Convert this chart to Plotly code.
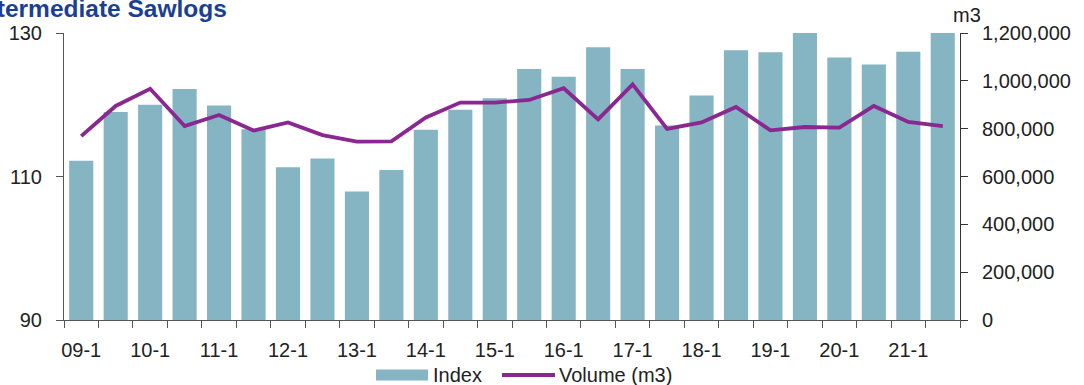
import plotly.graph_objects as go

# Half-year periods 2009 H1 .. 2021 H2
periods = [f"{y:02d}-{h}" for y in range(9, 22) for h in (1, 2)]
tick_text = [p if p.endswith("-1") else "" for p in periods]

index_values = [112.2, 119.0, 120.0, 122.2, 119.9, 116.6, 111.3, 112.5, 107.9, 110.9,
                116.5, 119.3, 120.9, 125.0, 123.9, 128.0, 125.0, 117.1, 121.3, 127.6,
                127.3, 130.0, 126.6, 125.6, 127.4, 130.0]

volume_m3 = [769000, 895000, 967000, 811000, 857000, 792000, 826000, 773000, 746000, 747000,
             847000, 909000, 909000, 920000, 969000, 839000, 985000, 799000, 826000, 891000,
             793000, 807000, 804000, 895000, 828000, 811000]

FONT = "Liberation Sans, Arial, sans-serif"
TXT = "#222222"
BAR_COLOR = "#85B4C3"
LINE_COLOR = "#8B2790"

# plot-area geometry (pixels) used to place the hand-drawn legend
L, R, T, B = 64, 124, 33, 65
W, H = 1084, 385
PW, PH = W - L - R, H - T - B


def px(x):
    return (x - L) / PW


def py(y):
    return (H - B - y) / PH


fig = go.Figure()
fig.add_trace(go.Bar(
    x=periods, y=index_values, name="Index",
    marker=dict(color=BAR_COLOR, line=dict(width=0)),
    width=0.7,
))
fig.add_trace(go.Scatter(
    x=periods, y=volume_m3, name="Volume (m3)", yaxis="y2",
    mode="lines", line=dict(color=LINE_COLOR, width=3.8),
))

legend_y = 375
shapes = [
    dict(type="rect", xref="paper", yref="paper",
         x0=px(376), x1=px(428), y0=py(legend_y + 5.5), y1=py(legend_y - 5.5),
         fillcolor=BAR_COLOR, line=dict(width=0)),
    dict(type="line", xref="paper", yref="paper",
         x0=px(502), x1=px(555), y0=py(legend_y), y1=py(legend_y),
         line=dict(color=LINE_COLOR, width=4)),
]

annotations = [
    dict(text="<b>Intermediate Sawlogs</b>", xref="paper", yref="paper",
         x=px(-27.5), xanchor="left", y=py(8), yanchor="middle",
         showarrow=False, font=dict(size=24.5, color="#1B3F94", family=FONT)),
    dict(text="m3", xref="paper", yref="paper", x=px(967), xanchor="center",
         y=py(15), yanchor="middle",
         showarrow=False, font=dict(size=20, color=TXT)),
    dict(text="Index", xref="paper", yref="paper", x=px(431), xanchor="left",
         y=py(legend_y), yanchor="middle", showarrow=False,
         font=dict(size=20, color=TXT)),
    dict(text="Volume (m3)", xref="paper", yref="paper", x=px(557), xanchor="left",
         y=py(legend_y), yanchor="middle", showarrow=False,
         font=dict(size=20, color=TXT)),
]

fig.update_layout(
    width=W, height=H,
    margin=dict(l=L, r=R, t=T, b=B, autoexpand=False),
    paper_bgcolor="white", plot_bgcolor="white",
    font=dict(family=FONT, size=20, color=TXT),
    showlegend=False,
    bargap=0.3,
    xaxis=dict(
        type="category", tickmode="array", tickvals=periods, ticktext=tick_text,
        tickson="boundaries", ticks="outside", ticklen=7, tickcolor="#555555",
        tickangle=0, automargin=False, ticklabelstandoff=12,
        showline=True, linecolor="#555555", linewidth=1, showgrid=False,
        tickfont=dict(size=20, color=TXT),
    ),
    yaxis=dict(
        range=[90, 130], tickvals=[90, 110, 130], ticks="outside", ticklen=7,
        tickcolor="#555555", showline=True, linecolor="#555555", linewidth=1,
        showgrid=False, zeroline=False, automargin=False, ticklabelstandoff=10,
        tickfont=dict(size=20, color=TXT),
    ),
    yaxis2=dict(
        overlaying="y", side="right", range=[0, 1200000],
        tickvals=[0, 200000, 400000, 600000, 800000, 1000000, 1200000],
        tickformat=",d", ticks="outside", ticklen=7, tickcolor="#333333",
        showline=True, linecolor="#333333", linewidth=1, showgrid=False,
        zeroline=False, automargin=False, ticklabelstandoff=10,
        tickfont=dict(size=20, color=TXT),
    ),
    shapes=shapes,
    annotations=annotations,
)

fig.write_html("out.html")
